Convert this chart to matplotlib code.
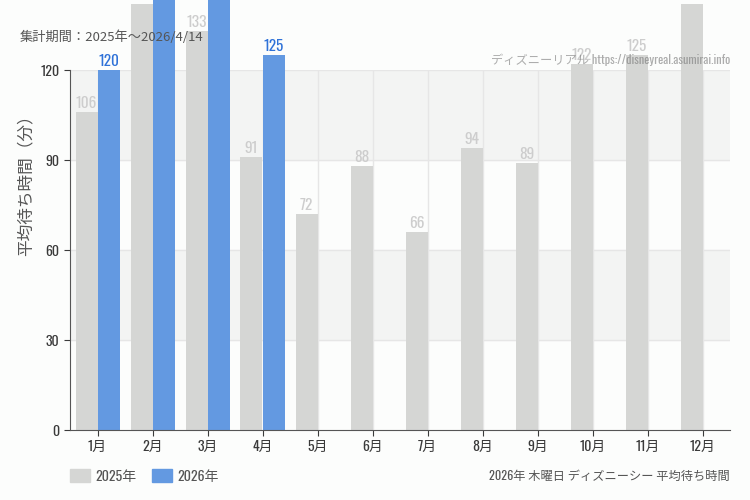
import matplotlib.pyplot as plt
import numpy as np

plt.rcParams['font.family'] = ['Noto Sans CJK JP', 'DejaVu Sans']

months = ['1月', '2月', '3月', '4月', '5月', '6月', '7月', '8月', '9月', '10月', '11月', '12月']
wait_2025 = [106, 142, 133, 91, 72, 88, 66, 94, 89, 122, 125, 142]
wait_2026 = [120, 152, 147, 125]
yticks = [0, 30, 60, 90, 120]

gray = '#d5d6d4'
blue = '#6399e1'
bg = '#fcfdfc'
narrow = ['Oswald', 'Roboto Condensed', 'Noto Sans CJK JP', 'DejaVu Sans']

fig = plt.figure(figsize=(7.5, 5), dpi=100, facecolor=bg)
ax = fig.add_axes([70 / 750, 70 / 500, 660 / 750, 360 / 500])
ax.set_facecolor(bg)

# alternating bands
for lo in (30, 90):
    ax.axhspan(lo, lo + 30, color='#f3f4f3', zorder=0)

x = np.arange(len(months))
w = 0.4
ax.set_xlim(-0.5, len(months) - 0.5)
ax.set_ylim(0, 120)

for v in yticks[1:]:
    ax.axhline(v, color='#e6e6e6', lw=1, zorder=1)
for xi in x:
    ax.axvline(xi, color='#e6e6e6', lw=1, zorder=1)

ax.bar(x - w / 2, wait_2025, w, color=gray, zorder=2, clip_on=False)
ax.bar(x[:len(wait_2026)] + w / 2, wait_2026, w, color=blue, zorder=2, clip_on=False)

lab_kw = dict(ha='center', va='bottom', fontsize=11, family=narrow,
              clip_on=False, zorder=3)
for xi, v in zip(x, wait_2025):
    ax.text(xi - w / 2, v + 0.3, str(v), color='#cdcdcd', **lab_kw)
for xi, v in zip(x, wait_2026):
    ax.text(xi + w / 2, v + 0.3, str(v), color='#2f72d8', **lab_kw)

ax.set_yticks(yticks)
ax.set_xticks(x)
ax.set_xticklabels(months)
ax.tick_params(axis='both', colors='#3a3a3a', labelsize=10, length=4)
ax.tick_params(axis='x', pad=3)
for lbl in ax.get_xticklabels() + ax.get_yticklabels():
    lbl.set_family(narrow)
for s in ('top', 'right'):
    ax.spines[s].set_visible(False)
for s in ('left', 'bottom'):
    ax.spines[s].set_color('#555555')

ax.set_ylabel('平均待ち時間（分）', fontsize=12, color='#555555')
ax.yaxis.set_label_coords(-0.053, 0.69)

fig.text(20 / 750, 1 - 37 / 500, '集計期間：2025年～2026/4/14', fontsize=9.5,
         color='#555555', va='center', ha='left')
fig.text(730 / 750, 1 - 60 / 500, 'ディズニーリアル https://disneyreal.asumirai.info',
         fontsize=8.8, family=narrow, color='#777777', alpha=0.6,
         va='center', ha='right', zorder=10)

# legend
fig.patches.append(plt.Rectangle((70 / 750, 1 - 482 / 500), 20 / 750, 13 / 500,
                                 transform=fig.transFigure, color=gray))
fig.text(95 / 750, 1 - 476 / 500, '2025年', fontsize=10, family=narrow,
         color='#555555', va='center')
fig.patches.append(plt.Rectangle((152 / 750, 1 - 482 / 500), 20 / 750, 13 / 500,
                                 transform=fig.transFigure, color=blue))
fig.text(177 / 750, 1 - 476 / 500, '2026年', fontsize=10, family=narrow,
         color='#555555', va='center')
fig.text(730 / 750, 1 - 476 / 500, '2026年 木曜日 ディズニーシー 平均待ち時間', fontsize=8.8,
         family=narrow, color='#555555', va='center', ha='right')

fig.savefig('out.png', dpi=100, facecolor=bg)
